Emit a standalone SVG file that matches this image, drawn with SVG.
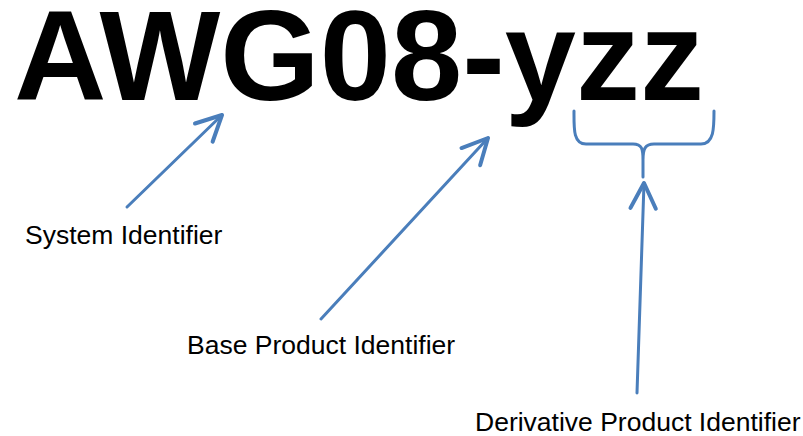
<svg xmlns="http://www.w3.org/2000/svg" width="803" height="436" viewBox="0 0 803 436">
<style>
.title{font-family:"Liberation Sans",Arial,sans-serif;font-weight:bold;font-size:128px;fill:#000}
.lbl{font-family:"Liberation Sans",Arial,sans-serif;font-size:26.5px;fill:#000}
.conn{stroke:#4A7EBB;stroke-width:3;fill:none;stroke-linecap:round;stroke-linejoin:round}
</style>
<defs>
<marker id="open" markerUnits="userSpaceOnUse" orient="auto" refX="0" refY="0" markerWidth="40" markerHeight="40" viewBox="-25 -15 30 30" overflow="visible">
<path d="M-19,-9.5 L0,0 L-19,9.5" fill="none" stroke="#4A7EBB" stroke-width="3" stroke-linecap="round" stroke-linejoin="round"/>
</marker>
</defs>
<rect width="803" height="436" fill="#fff"/>
<g id="title"><text class="title" x="14" y="100">AWG08-yzz</text></g>
<g id="system"><text class="lbl" x="25" y="244">System Identifier</text></g>
<g id="base"><text class="lbl" x="187" y="354">Base Product Identifier</text></g>
<g id="derivative"><text class="lbl" x="475" y="431">Derivative Product Identifier</text></g>
<g id="connectors">
<path class="conn" d="M127,207 L222,115" marker-end="url(#open)"/>
<path class="conn" d="M321,319 L488,138" marker-end="url(#open)"/>
<path class="conn" d="M637,393 L644,183" marker-end="url(#open)"/>
<path id="brace" class="conn" d="M574,111 C574,128 573,144 586,144 L633,144 C642,144 643,149 643,160 L643,177 M643,160 C643,149 645,144 654,144 L701,144 C714,144 714,128 714,111"/>
</g>
</svg>
